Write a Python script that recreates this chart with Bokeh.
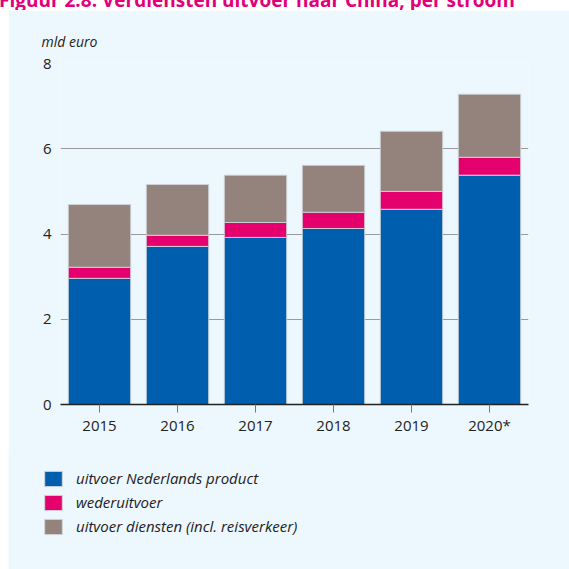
from bokeh.plotting import figure
from bokeh.models import Legend, LegendItem, Div, Range1d, FactorRange
from bokeh.layouts import column
from bokeh.embed import file_html
from bokeh.resources import INLINE

years = ["2015", "2016", "2017", "2018", "2019", "2020*"]
nl_product = [2.96, 3.71, 3.92, 4.13, 4.58, 5.38]
wederuitvoer = [0.26, 0.26, 0.35, 0.38, 0.42, 0.42]
diensten = [1.47, 1.19, 1.11, 1.10, 1.41, 1.48]
series = ["uitvoer Nederlands product", "wederuitvoer", "uitvoer diensten (incl. reisverkeer)"]
colors = ["#005EAF", "#E4006D", "#94827C"]
y_ticks = [0, 2, 4, 6, 8]

PANEL = "#EDF7FE"
FONT = "Open Sans"
BAR_LINE = "#d0d4d8"

data = {"year": years, "a": nl_product, "b": wederuitvoer, "c": diensten}

# ---------------- main chart ----------------
p = figure(x_range=FactorRange(*years, range_padding=0), y_range=Range1d(0, 8),
           width=561, height=440, output_backend="svg", toolbar_location=None,
           min_border_left=52, min_border_right=41, min_border_top=53, min_border_bottom=46,
           background_fill_color=PANEL, border_fill_color=PANEL, outline_line_color=None,
           margin=(0, 0, 0, 8), title="mld euro")

p.vbar_stack(["a", "b", "c"], x="year", width=0.8, source=data,
             color=colors, line_color=BAR_LINE, line_width=1, line_alpha=0.9)

p.title.text_font = FONT
p.title.text_font_style = "italic"
p.title.text_font_size = "14px"
p.title.text_color = "#222222"
p.title.offset = -19
p.title.standoff = 26

p.xgrid.grid_line_color = None
p.ygrid.grid_line_color = "#9a9a9a"
p.ygrid.grid_line_width = 1
p.yaxis.ticker = y_ticks
p.yaxis.axis_line_color = None
p.yaxis.major_tick_line_color = None
p.yaxis.major_tick_out = 0
p.yaxis.major_tick_in = 0
p.yaxis.minor_tick_line_color = None
p.yaxis.major_label_standoff = 9
p.yaxis.major_label_text_font = FONT
p.yaxis.major_label_text_font_size = "15px"
p.yaxis.major_label_text_color = "#222222"

p.xaxis.axis_line_color = "#222222"
p.xaxis.axis_line_width = 1.5
p.xaxis.major_tick_line_color = "#777777"
p.xaxis.major_tick_out = 8
p.xaxis.major_tick_in = 0
p.xaxis.major_label_standoff = 2
p.xaxis.major_label_text_font = FONT
p.xaxis.major_label_text_font_size = "15px"
p.xaxis.major_label_text_color = "#222222"

# ---------------- legend panel (separate root, bars kept out of view) ----------------
lg = figure(width=561, height=120, output_backend="svg", toolbar_location=None,
            x_range=FactorRange(*years), y_range=Range1d(100, 101),
            x_axis_type=None, y_axis_type=None,
            min_border=0, min_border_left=0, min_border_right=0,
            min_border_top=0, min_border_bottom=0,
            background_fill_color=PANEL, border_fill_color=PANEL, outline_line_color=None,
            margin=(-1, 0, 0, 8))
lg.grid.visible = False

lg_renderers = lg.vbar_stack(["a", "b", "c"], x="year", width=0.8, source=data,
                             color=colors, line_color=BAR_LINE, line_width=1)

legend = Legend(items=[LegendItem(label=s, renderers=[r]) for s, r in zip(series, lg_renderers)],
                location=(34, 33), orientation="vertical",
                border_line_color=None, background_fill_alpha=0,
                padding=0, margin=0, spacing=4,
                glyph_width=22, glyph_height=19, label_height=19, label_standoff=12,
                label_text_font=FONT, label_text_font_style="italic",
                label_text_font_size="15px", label_text_color="#222222")
lg.add_layout(legend, "center")

title = Div(text='<div style="margin-top:-19px;position:relative;top:-5px;margin-left:-1px;white-space:nowrap;'
                 'font-family:\'Open Sans\';font-weight:bold;font-size:19px;line-height:24px;color:#E2007A;">'
                 'Figuur 2.8. Verdiensten uitvoer naar China, per stroom</div>',
            width=569, height=10, margin=0, styles={"overflow": "hidden"})

top = column(title, p, spacing=0, margin=0)

open("out.html", "w").write(file_html([top, lg], INLINE))
